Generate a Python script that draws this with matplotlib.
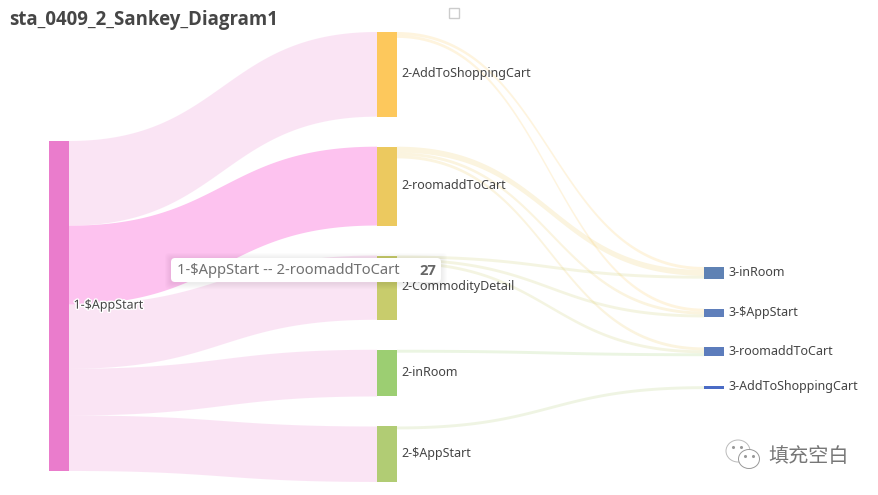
import numpy as np
import matplotlib
matplotlib.use("Agg")
import matplotlib.pyplot as plt
import matplotlib.patheffects as pe
from matplotlib.patches import Polygon, Rectangle, FancyBboxPatch, Ellipse

#data
title = "sta_0409_2_Sankey_Diagram1"
col1 = ["1-$AppStart"]
col2 = ["2-AddToShoppingCart", "2-roomaddToCart", "2-CommodityDetail", "2-inRoom", "2-$AppStart"]
col3 = ["3-inRoom", "3-$AppStart", "3-roomaddToCart", "3-AddToShoppingCart"]

sources = ["1-$AppStart"] * 5 + [
    "2-AddToShoppingCart", "2-AddToShoppingCart",
    "2-roomaddToCart", "2-roomaddToCart", "2-roomaddToCart",
    "2-CommodityDetail", "2-CommodityDetail", "2-CommodityDetail",
    "2-inRoom", "2-$AppStart"]
targets = col2 + [
    "3-inRoom", "3-$AppStart",
    "3-inRoom", "3-$AppStart", "3-roomaddToCart",
    "3-inRoom", "3-$AppStart", "3-roomaddToCart",
    "3-roomaddToCart", "3-AddToShoppingCart"]
values = [29, 27, 22, 16, 19,
          1, 1,
          2, 1, 1,
          1, 1, 1,
          1, 1]

node_colors = {
    "1-$AppStart": "#EA7CCC",
    "2-AddToShoppingCart": "#FDC85C",
    "2-roomaddToCart": "#ECC95F",
    "2-CommodityDetail": "#C8CC6C",
    "2-inRoom": "#9CCE72",
    "2-$AppStart": "#B1CC74",
    "3-inRoom": "#5F82B4",
    "3-$AppStart": "#5F7FBB",
    "3-roomaddToCart": "#5C7CBC",
    "3-AddToShoppingCart": "#4A6BC5",
}

#layout, in pixels of the figure
scale = 2.92
gap = 30
node_w = 20
columns = [(col1, 49, 141), (col2, 377, 32), (col3, 704, 267)]

plt.rcParams["font.family"] = ["Noto Sans", "DejaVu Sans"]
fig = plt.figure(figsize=(8.79, 4.95), dpi=100)
ax = fig.add_axes([0, 0, 1, 1])
ax.set_xlim(0, 879)
ax.set_ylim(495, 0)
ax.axis("off")

# a node is as tall as the larger of what comes in and what goes out
total_in = {}
total_out = {}
for s, t, v in zip(sources, targets, values):
    total_out[s] = total_out.get(s, 0) + v
    total_in[t] = total_in.get(t, 0) + v
totals = {}
for names, x, top in columns:
    for n in names:
        totals[n] = max(total_in.get(n, 0), total_out.get(n, 0))

node_x = {}
node_y = {}
for names, x, top in columns:
    y = top
    for n in names:
        node_x[n] = x
        node_y[n] = y
        y = y + totals[n] * scale + gap

out_y = dict(node_y)
in_y = dict(node_y)


def band(x0, y0, x1, y1, h):
    # cubic bezier with both control points half way across
    t = np.linspace(0, 1, 80)
    xm = (x0 + x1) / 2
    xs = (1-t)**3*x0 + 3*(1-t)**2*t*xm + 3*(1-t)*t**2*xm + t**3*x1
    ys = (1-t)**3*y0 + 3*(1-t)**2*t*y0 + 3*(1-t)*t**2*y1 + t**3*y1
    top = np.column_stack([xs, ys])
    bottom = np.column_stack([xs, ys + h])[::-1]
    return np.vstack([top, bottom])


for s, t, v in zip(sources, targets, values):
    h = v * scale
    pts = band(node_x[s] + node_w, out_y[s], node_x[t], in_y[t], h)
    out_y[s] += h
    in_y[t] += h
    if s == "1-$AppStart" and t == "2-roomaddToCart":
        ax.add_patch(Polygon(pts, facecolor="#FDC2EF", edgecolor="none", zorder=3))
    else:
        ax.add_patch(Polygon(pts, facecolor=node_colors[s], alpha=0.2, edgecolor="none", zorder=2))

for names, x, top in columns:
    for n in names:
        h = totals[n] * scale
        ax.add_patch(Rectangle((x, node_y[n]), node_w, h, facecolor=node_colors[n],
                               edgecolor="none", zorder=4))
        txt = ax.text(x + node_w + 4.5, node_y[n] + h / 2 - 0.8, n, fontsize=9.0, color="#444444",
                      va="center", ha="left", zorder=5, parse_math=False)
        if n == "1-$AppStart":
            txt.set_path_effects([pe.withStroke(linewidth=2, foreground="white")])

#title and small legend box
ax.text(9, 20, title, fontsize=13.4, fontweight="bold", color="#464646", va="center", ha="left",
        family=["Open Sans", "DejaVu Sans"])
ax.add_patch(Rectangle((449.5, 7.5), 10, 10, facecolor="white", edgecolor="#CCCCCC", lw=1))

#tooltip
for i in range(6, 0, -1):
    ax.add_patch(FancyBboxPatch((171 - i, 258 - i + 1), 270 + 2 * i, 24 + 2 * i,
                                boxstyle="round,pad=0,rounding_size=4", facecolor="black",
                                alpha=0.012, edgecolor="none", zorder=6))
ax.add_patch(FancyBboxPatch((171, 258), 270, 24, boxstyle="round,pad=0,rounding_size=4",
                            facecolor="white", edgecolor="none", zorder=7))
ax.text(177, 270.8, "1-$AppStart -- 2-roomaddToCart", fontsize=10.6, color="#707070",
        va="center", ha="left", zorder=8, parse_math=False)
ax.text(436, 270.8, str(values[1]), fontsize=10.6, fontweight="bold", color="#666666",
        va="center", ha="right", zorder=8, family=["Open Sans", "DejaVu Sans"])

#watermark
ax.add_patch(Ellipse((738, 451), 24, 22, facecolor="white", edgecolor="#BBBBBB", lw=0.7, zorder=8))
ax.add_patch(Ellipse((749, 459), 21, 19, facecolor="white", edgecolor="#999999", lw=0.7, zorder=8))
ax.plot([733, 741, 745, 753], [447, 447, 456, 456], ls="none", marker="o", ms=1.2,
        color="#999999", zorder=9)
ax.text(768, 457, "填充空白", fontsize=14.5, color="#777777", va="center", ha="left",
        family=["Noto Sans CJK SC", "DejaVu Sans"], fontweight="light", zorder=8)

fig.savefig("out.png", dpi=100)
